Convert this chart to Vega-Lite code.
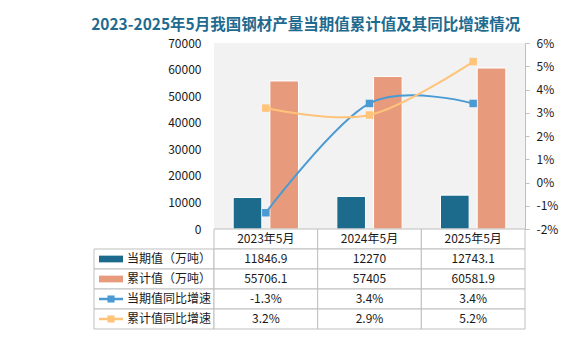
{
  "$schema": "https://vega.github.io/schema/vega-lite/v6.json",
  "background": "white",
  "padding": {"left": 91, "top": 17, "right": 10, "bottom": 10},
  "title": {"text": "2023-2025年5月我国钢材产量当期值累计值及其同比增速情况", "fontSize": 15.5, "font": "Noto Sans CJK SC", "fontWeight": "bold", "color": "#1F6B8F", "anchor": "middle", "offset": 4, "dx": -20},
  "config": {
    "font": "Noto Sans CJK SC",
    "view": {"stroke": null},
    "axis": {"labelFont": "Noto Sans CJK SC", "labelFontSize": 12, "labelColor": "#1a1a1a"},
    "text": {"font": "Noto Sans CJK SC", "fontSize": 12, "color": "#1a1a1a"}
  },
  "datasets": {
    "steel": [
      {"月份": "2023年5月", "当期值（万吨）": 11846.9, "累计值（万吨）": 55706.1, "当期值同比增速": -1.3, "累计值同比增速": 3.2},
      {"月份": "2024年5月", "当期值（万吨）": 12270, "累计值（万吨）": 57405, "当期值同比增速": 3.4, "累计值同比增速": 2.9},
      {"月份": "2025年5月", "当期值（万吨）": 12743.1, "累计值（万吨）": 60581.9, "当期值同比增速": 3.4, "累计值同比增速": 5.2}
    ],
    "rows": [
      {"系列": "当期值（万吨）"},
      {"系列": "累计值（万吨）"},
      {"系列": "当期值同比增速"},
      {"系列": "累计值同比增速"}
    ]
  },
  "bounds": "flush",
  "align": "each",
  "spacing": 0,
  "columns": 2,
  "concat": [
    {
      "width": 120, "height": 186,
      "data": {"values": [{}]},
      "mark": {"type": "point", "opacity": 0},
      "encoding": {}
    },
    {
      "width": 311, "height": 186,
      "view": {"fill": "#F2F2F2", "stroke": null},
      "data": {"name": "steel"},
      "layer": [
        {
          "transform": [{"fold": ["当期值（万吨）", "累计值（万吨）"], "as": ["系列", "数值"]}],
          "mark": {"type": "bar", "stroke": "white", "strokeWidth": 1},
          "encoding": {
            "x": {"field": "月份", "type": "nominal", "sort": null, "axis": null, "scale": {"paddingInner": 0.37, "paddingOuter": 0.185}},
            "xOffset": {"field": "系列", "type": "nominal", "sort": ["当期值（万吨）", "累计值（万吨）"], "scale": {"paddingInner": 0.22, "paddingOuter": 0}},
            "y": {"field": "数值", "type": "quantitative", "scale": {"domain": [0, 70000]},
                  "axis": {"orient": "left", "values": [0, 10000, 20000, 30000, 40000, 50000, 60000, 70000], "domain": false, "ticks": false, "grid": false, "labelPadding": 13, "title": null, "format": "d"}},
            "color": {"field": "系列", "type": "nominal", "legend": null,
                      "scale": {"domain": ["当期值（万吨）", "累计值（万吨）", "当期值同比增速", "累计值同比增速"], "range": ["#1C6A8C", "#E89B7C", "#4A9AD4", "#FFC47A"]}}
          }
        },
        {
          "transform": [{"fold": ["当期值同比增速", "累计值同比增速"], "as": ["系列", "数值"]}],
          "mark": {"type": "line", "interpolate": "cardinal", "strokeWidth": 2, "point": {"shape": "square", "size": 56, "filled": true, "opacity": 1}},
          "encoding": {
            "x": {"field": "月份", "type": "nominal", "sort": null},
            "y": {"field": "数值", "type": "quantitative", "scale": {"domain": [-2, 6]},
                  "axis": {"orient": "right", "values": [-2, -1, 0, 1, 2, 3, 4, 5, 6], "labelExpr": "datum.value + '%'", "domain": true, "domainColor": "#BFBFBF", "ticks": true, "tickColor": "#BFBFBF", "tickSize": 4, "labelPadding": 7, "grid": false, "title": null}},
            "color": {"field": "系列", "type": "nominal", "legend": null,
                      "scale": {"domain": ["当期值（万吨）", "累计值（万吨）", "当期值同比增速", "累计值同比增速"], "range": ["#1C6A8C", "#E89B7C", "#4A9AD4", "#FFC47A"]}}
          }
        }
      ],
      "resolve": {"scale": {"y": "independent"}}
    },
    {
      "width": 120, "height": 100,
      "data": {"name": "rows"},
      "layer": [
        {
          "mark": {"type": "rect", "fill": "white", "stroke": "#BFBFBF", "strokeWidth": 1},
          "encoding": {
            "y": {"field": "系列", "type": "nominal", "axis": null,
                  "scale": {"domain": ["月份", "当期值（万吨）", "累计值（万吨）", "当期值同比增速", "累计值同比增速"], "paddingInner": 0, "paddingOuter": 0}}
          }
        },
        {
          "mark": {"type": "text", "align": "left", "baseline": "middle", "xOffset": -27, "fontSize": 12},
          "encoding": {
            "y": {"field": "系列", "type": "nominal"},
            "text": {"field": "系列"}
          }
        },
        {
          "transform": [{"filter": "indexof(datum['系列'], '同比') < 0"}],
          "mark": {"type": "point", "shape": "M-1,-0.28H1V0.28H-1Z", "size": 576, "filled": true, "opacity": 1, "xOffset": -43},
          "encoding": {
            "y": {"field": "系列", "type": "nominal"},
            "color": {"field": "系列", "type": "nominal", "legend": null,
                      "scale": {"domain": ["当期值（万吨）", "累计值（万吨）", "当期值同比增速", "累计值同比增速"], "range": ["#1C6A8C", "#E89B7C", "#4A9AD4", "#FFC47A"]}}
          }
        },
        {
          "transform": [{"filter": "indexof(datum['系列'], '同比') >= 0"}],
          "mark": {"type": "point", "shape": "M-1,0H1", "size": 576, "filled": false, "strokeWidth": 2.5, "opacity": 1, "xOffset": -43},
          "encoding": {
            "y": {"field": "系列", "type": "nominal"},
            "color": {"field": "系列", "type": "nominal", "legend": null,
                      "scale": {"domain": ["当期值（万吨）", "累计值（万吨）", "当期值同比增速", "累计值同比增速"], "range": ["#1C6A8C", "#E89B7C", "#4A9AD4", "#FFC47A"]}}
          }
        },
        {
          "transform": [{"filter": "indexof(datum['系列'], '同比') >= 0"}],
          "mark": {"type": "point", "shape": "square", "size": 50, "filled": true, "opacity": 1, "xOffset": -43},
          "encoding": {
            "y": {"field": "系列", "type": "nominal"},
            "color": {"field": "系列", "type": "nominal", "legend": null,
                      "scale": {"domain": ["当期值（万吨）", "累计值（万吨）", "当期值同比增速", "累计值同比增速"], "range": ["#1C6A8C", "#E89B7C", "#4A9AD4", "#FFC47A"]}}
          }
        }
      ]
    },
    {
      "width": 311, "height": 100,
      "data": {"name": "steel"},
      "layer": [
        {
          "mark": {"type": "rect", "fill": "white", "stroke": "#BFBFBF", "strokeWidth": 1},
          "encoding": {
            "x": {"field": "月份", "type": "nominal", "sort": null, "axis": null, "scale": {"paddingInner": 0, "paddingOuter": 0}},
            "y": {"datum": "月份", "type": "nominal", "axis": null,
                  "scale": {"domain": ["月份", "当期值（万吨）", "累计值（万吨）", "当期值同比增速", "累计值同比增速"], "paddingInner": 0, "paddingOuter": 0}}
          }
        },
        {
          "mark": {"type": "text", "baseline": "middle", "fontSize": 12},
          "encoding": {
            "x": {"field": "月份", "type": "nominal", "sort": null},
            "y": {"datum": "月份", "type": "nominal"},
            "text": {"field": "月份"}
          }
        },
        {
          "transform": [
            {"fold": ["当期值（万吨）", "累计值（万吨）", "当期值同比增速", "累计值同比增速"], "as": ["系列", "数值"]},
            {"calculate": "indexof(datum['系列'], '同比') >= 0 ? replace(format(datum['数值'], '.1f'), '−', '-') + '%' : '' + datum['数值']", "as": "标签"}
          ],
          "layer": [
            {
              "mark": {"type": "rect", "fill": "white", "stroke": "#BFBFBF", "strokeWidth": 1},
              "encoding": {
                "x": {"field": "月份", "type": "nominal", "sort": null},
                "y": {"field": "系列", "type": "nominal"}
              }
            },
            {
              "mark": {"type": "text", "baseline": "middle", "fontSize": 12},
              "encoding": {
                "x": {"field": "月份", "type": "nominal", "sort": null},
                "y": {"field": "系列", "type": "nominal"},
                "text": {"field": "标签"}
              }
            }
          ]
        }
      ]
    }
  ]
}
